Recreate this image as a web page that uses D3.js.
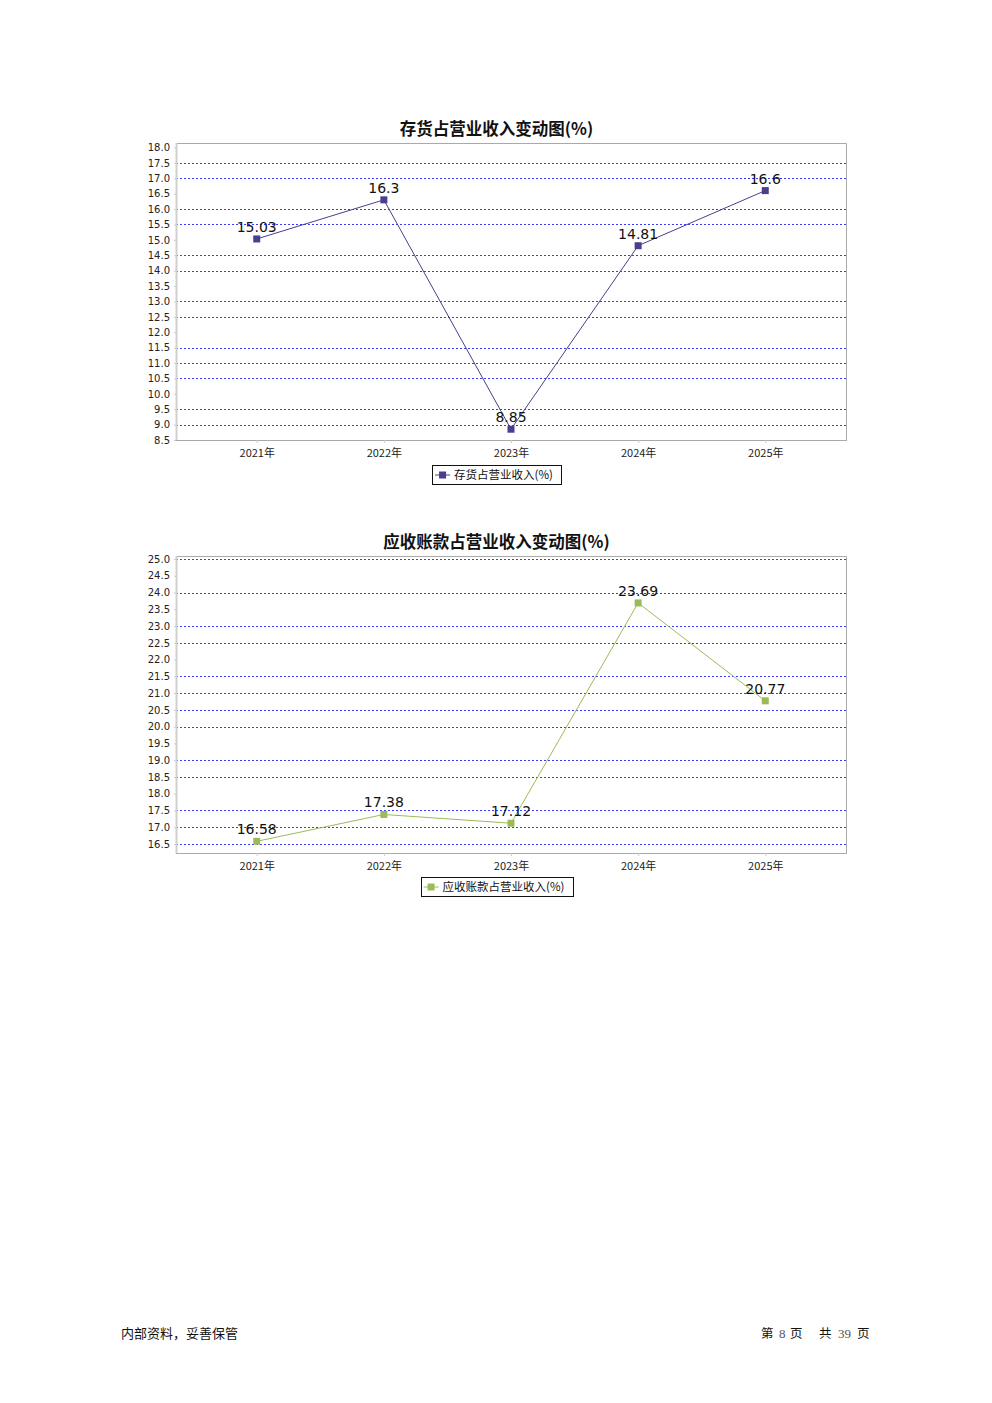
<!DOCTYPE html>
<html>
<head>
<meta charset="utf-8">
<script src="https://cdn.jsdelivr.net/npm/d3@7"></script>
<style>
  html, body { margin: 0; padding: 0; background: #fff; }
  svg { display: block; }
</style>
</head>
<body>
<svg id="page" width="992" height="1403"></svg>
<script>
// ---- data ----
const years = ["2021年", "2022年", "2023年", "2024年", "2025年"];

const inventoryTitle = "存货占营业收入变动图(%)";
const inventoryName = "存货占营业收入(%)";
const inventoryValues = [15.03, 16.3, 8.85, 14.81, 16.6];
const inventoryTicks = [8.5, 9.0, 9.5, 10.0, 10.5, 11.0, 11.5, 12.0, 12.5, 13.0, 13.5, 14.0, 14.5, 15.0, 15.5, 16.0, 16.5, 17.0, 17.5, 18.0];
const inventoryGrid = [9.0, 9.5, 10.5, 11.0, 11.5, 12.5, 13.0, 14.0, 14.5, 15.5, 16.0, 17.0, 17.5];

const receivableTitle = "应收账款占营业收入变动图(%)";
const receivableName = "应收账款占营业收入(%)";
const receivableValues = [16.58, 17.38, 17.12, 23.69, 20.77];
const receivableTicks = [16.5, 17.0, 17.5, 18.0, 18.5, 19.0, 19.5, 20.0, 20.5, 21.0, 21.5, 22.0, 22.5, 23.0, 23.5, 24.0, 24.5, 25.0];
const receivableGrid = [16.5, 17.0, 17.5, 18.5, 19.0, 20.0, 20.5, 21.0, 21.5, 22.5, 23.0, 24.0, 25.0];

const footerLeft = "内部资料，妥善保管";
const footerParts = ["第", "8", "页", "共", "39", "页"];

// ---- drawing ----
const svg = d3.select("#page");
const FONT = "'DejaVu Sans', 'Noto Sans CJK SC', sans-serif";
const CJK = "'Noto Sans CJK SC', 'DejaVu Sans', sans-serif";

function drawChart(cfg) {
  const g = svg.append("g");
  const left = 176, right = 846;
  const x = d3.scalePoint().domain(years).range([left, right]).padding(0.635);
  const y = d3.scaleLinear().domain([cfg.ticks[0], cfg.ticks[cfg.ticks.length - 1]]).range([cfg.yBottom, cfg.yTop]);

  // title
  g.append("text").attr("x", 496.5).attr("y", cfg.titleY)
    .attr("text-anchor", "middle").attr("font-family", CJK)
    .attr("font-weight", "bold").attr("font-size", 16.5).attr("fill", "#111")
    .text(cfg.title);

  // grid
  g.append("g").selectAll("line").data(cfg.grid).join("line")
    .attr("x1", left).attr("x2", right)
    .attr("y1", d => Math.round(y(d)) + 0.5).attr("y2", d => Math.round(y(d)) + 0.5)
    .attr("stroke", "#3b3bff").attr("stroke-width", 1).attr("stroke-dasharray", "2,2");

  // frame
  g.append("path")
    .attr("d", `M${left + 0.5},${cfg.frameTop + 0.5}H${right + 0.5}V${cfg.frameBottom + 0.5}`)
    .attr("fill", "none").attr("stroke", "#aaa").attr("stroke-width", 1);

  // y axis
  const ya = g.append("g").attr("transform", `translate(${left},0)`)
    .call(d3.axisLeft(y).tickValues(cfg.ticks).tickFormat(d3.format(".1f")).tickSize(2).tickPadding(4));
  ya.select(".domain").attr("d", `M0.5,${cfg.frameTop}V${cfg.frameBottom + 1}`).attr("stroke", "#d0d0d0").attr("stroke-width", 2);
  ya.selectAll(".tick line").attr("stroke", "#ccc");
  ya.selectAll("text").attr("font-family", FONT).attr("font-size", 10).attr("fill", "#222");

  // x axis
  const xa = g.append("g").attr("transform", `translate(0,${cfg.frameBottom})`)
    .call(d3.axisBottom(x).tickSize(3).tickPadding(6));
  xa.select(".domain").attr("d", `M${left},0.5H${right + 1}`).attr("stroke", "#aaa").attr("stroke-width", 1);
  xa.selectAll(".tick line").attr("stroke", "#ccc");
  xa.selectAll("text").attr("font-family", CJK).attr("font-size", 11).attr("fill", "#222");

  // line
  const data = years.map((yr, i) => ({ yr, v: cfg.values[i] }));
  g.append("path").datum(data)
    .attr("d", d3.line().x(d => x(d.yr)).y(d => y(d.v)))
    .attr("fill", "none").attr("stroke", cfg.color).attr("stroke-width", 1);

  g.append("g").selectAll("rect").data(data).join("rect")
    .attr("x", d => x(d.yr) - 3.5).attr("y", d => y(d.v) - 3.5)
    .attr("width", 7).attr("height", 7).attr("fill", cfg.color);

  g.append("g").selectAll("text").data(data).join("text")
    .attr("x", d => x(d.yr)).attr("y", d => y(d.v) - 7)
    .attr("text-anchor", "middle").attr("font-family", FONT).attr("font-size", 14).attr("fill", "#111")
    .text(d => String(d.v));

  // legend
  const lg = g.append("g");
  const lt = lg.append("text").attr("y", cfg.legendY + 14)
    .attr("font-family", CJK).attr("font-size", 11.5).attr("fill", "#111").text(cfg.name);
  const tw = lt.node().getComputedTextLength();
  const boxW = tw + 30;
  const bx = 496.5 - boxW / 2;
  lg.insert("rect", "text").attr("x", Math.round(bx) + 0.5).attr("y", cfg.legendY + 0.5)
    .attr("width", Math.round(boxW)).attr("height", 19)
    .attr("fill", "#fff").attr("stroke", "#111").attr("stroke-width", 1);
  lt.attr("x", bx + 22);
  lg.append("line").attr("x1", bx + 3).attr("x2", bx + 18).attr("y1", cfg.legendY + 10).attr("y2", cfg.legendY + 10)
    .attr("stroke", cfg.color).attr("stroke-width", 1);
  lg.append("rect").attr("x", bx + 7).attr("y", cfg.legendY + 6.5).attr("width", 7).attr("height", 7).attr("fill", cfg.color);
}

drawChart({
  title: inventoryTitle, name: inventoryName, values: inventoryValues,
  ticks: inventoryTicks, grid: inventoryGrid, color: "#4a3f8c",
  titleY: 135, yTop: 147.5, yBottom: 440, frameTop: 143, frameBottom: 440, legendY: 465
});

drawChart({
  title: receivableTitle, name: receivableName, values: receivableValues,
  ticks: receivableTicks, grid: receivableGrid, color: "#9bbb59",
  titleY: 548, yTop: 559, yBottom: 844, frameTop: 556, frameBottom: 853, legendY: 877
});

// footer
svg.append("text").attr("x", 121).attr("y", 1338)
  .attr("font-family", CJK).attr("font-size", 13).attr("fill", "#111").text(footerLeft);

const footX = [761, 779, 790, 819, 838, 857];
svg.append("g").selectAll("text").data(footerParts).join("text")
  .attr("x", (d, i) => footX[i]).attr("y", 1338)
  .attr("font-family", d => /\d/.test(d) ? "'Liberation Serif', serif" : CJK)
  .attr("font-size", d => /\d/.test(d) ? 13 : 12.5)
  .attr("fill", d => /\d/.test(d) ? "#555" : "#111")
  .text(d => d);
</script>
</body>
</html>
